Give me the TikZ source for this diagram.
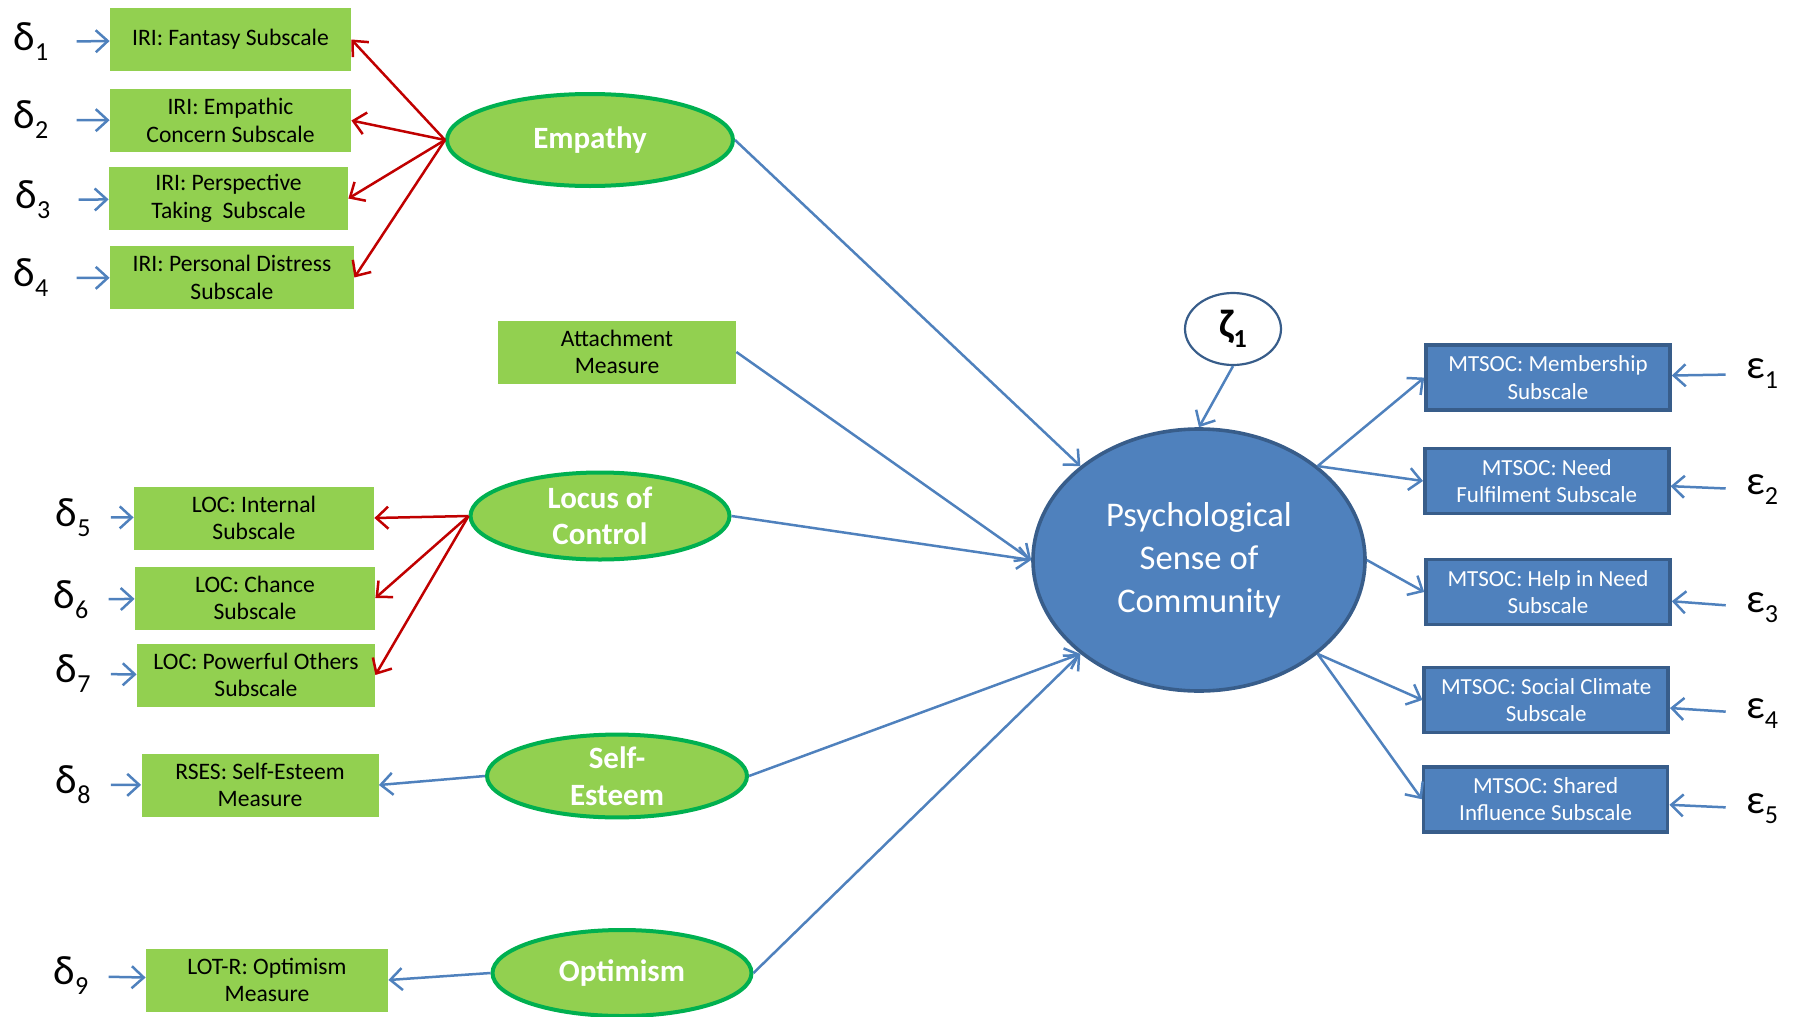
\documentclass[tikz,border=0pt]{standalone}
\usepackage{fontspec}
\setmainfont{Carlito}
\usetikzlibrary{arrows.meta,shapes.geometric}
\definecolor{boxgreen}{HTML}{92D050}
\definecolor{rimgreen}{HTML}{00B050}
\definecolor{psblue}{HTML}{4F81BD}
\definecolor{rimblue}{HTML}{385D8A}
\definecolor{arrowred}{HTML}{C00000}
\newcommand{\errlabel}[2]{#1\raisebox{-5pt}{\fontsize{13}{13}\selectfont #2}}

\begin{document}
\begin{tikzpicture}[x=1pt,y=-1pt,>={Straight Barb[length=6pt,width=11pt]},
  bluearrow/.style={draw=psblue,line width=1.25pt,->},
  redarrow/.style={draw=arrowred,line width=1.25pt,->}]

        \useasboundingbox (0,0) rectangle (897,508.5);

        \begin{scope}[every node/.style={fill=boxgreen,align=center,inner sep=0pt,minimum height=31.5pt,font=\fontsize{11.8}{13.7}\selectfont}]
          \node[minimum width=120.5pt] (fan)  at (115.25,19.75) {IRI: Fantasy Subscale};
          \node[minimum width=120.5pt] (emc)  at (115.25,60.25) {IRI: Empathic\\Concern Subscale};
          \node[minimum width=119.5pt] (per)  at (114.25,99.25) {IRI: Perspective\\Taking\ \ Subscale};
          \node[minimum width=122pt]   (pdi)  at (116,138.75)   {IRI: Personal Distress\\Subscale};
          \node[minimum width=119pt]   (att)  at (308.5,176)    {Attachment\\Measure};
          \node[minimum width=120pt]   (int)  at (127,259)      {LOC: Internal\\Subscale};
          \node[minimum width=120pt]   (cha)  at (127.5,299)    {LOC: Chance\\Subscale};
          \node[minimum width=119pt]   (pow)  at (128,337.5)    {LOC: Powerful Others\\Subscale};
          \node[minimum width=118.5pt] (rses) at (130,392.5)    {RSES: Self-Esteem\\Measure};
          \node[minimum width=121pt]   (lotr) at (133.5,490)    {LOT-R: Optimism\\Measure};
        \end{scope}

        \begin{scope}[every node/.style={ellipse,fill=boxgreen,draw=rimgreen,line width=2pt,inner sep=0pt,text=white,align=center,font=\bfseries\fontsize{15.5}{18.3}\selectfont}]
          \node[minimum width=143pt,minimum height=46pt]   (emp)  at (295,70)    {Empathy};
          \node[minimum width=129.5pt,minimum height=43.5pt] (loc) at (300,258) {Locus of\\Control};
          \node[minimum width=130pt,minimum height=41pt]   (self) at (308.5,388) {Self-\\Esteem};
          \node[minimum width=129.5pt,minimum height=43pt] (opt)  at (311,486.5) {Optimism};
        \end{scope}

        \node[ellipse,fill=psblue,draw=rimblue,line width=1.8pt,minimum width=166pt,minimum height=131pt,
              inner sep=0pt,text=white,align=center,font=\fontsize{17.3}{21.5}\selectfont] (psc) at (599.5,280)
              {Psychological\\Sense of\\Community};
        \node[ellipse,draw=rimblue,line width=1.1pt,minimum width=48pt,minimum height=36pt,inner sep=0pt,
              font=\bfseries\fontsize{20}{20}\selectfont] (zeta) at (616.5,164.5) {\errlabel{ζ}{1}};

        \begin{scope}[every node/.style={fill=psblue,draw=rimblue,line width=1.8pt,text=white,align=center,inner sep=0pt,
                                         minimum width=122pt,minimum height=32.5pt,font=\fontsize{11.5}{13.7}\selectfont}]
          \node (m1) at (774,188.8)   {MTSOC: Membership\\Subscale};
          \node (m2) at (773.4,240.5) {MTSOC: Need\\Fulfilment Subscale};
          \node (m3) at (774,296)     {MTSOC: Help in Need\\Subscale};
          \node (m4) at (773.1,350)   {MTSOC: Social Climate\\Subscale};
          \node (m5) at (772.8,399.6) {MTSOC: Shared\\Influence Subscale};
        \end{scope}

        \begin{scope}[every node/.style={inner sep=1pt,font=\fontsize{20.5}{20.5}\selectfont}]
          \node (d1) at (15.5,21)    {\errlabel{δ}{1}};
          \node (d2) at (15.5,60)    {\errlabel{δ}{2}};
          \node (d3) at (16.5,100)   {\errlabel{δ}{3}};
          \node (d4) at (15.5,139)   {\errlabel{δ}{4}};
          \node (d5) at (36.6,258.6) {\errlabel{δ}{5}};
          \node (d6) at (35.5,299.7) {\errlabel{δ}{6}};
          \node (d7) at (36.6,337)   {\errlabel{δ}{7}};
          \node (d8) at (36.6,392.4) {\errlabel{δ}{8}};
          \node (d9) at (35.5,488)   {\errlabel{δ}{9}};
          \node (e1) at (881,187)    {\errlabel{ε}{1}};
          \node (e2) at (881,245)    {\errlabel{ε}{2}};
          \node (e3) at (881,304)    {\errlabel{ε}{3}};
          \node (e4) at (881,357)    {\errlabel{ε}{4}};
          \node (e5) at (881,404.5)  {\errlabel{ε}{5}};
        \end{scope}

        \begin{scope}[every edge/.style={redarrow}]
          \path (emp.west) edge (fan.east);
          \path (emp.west) edge (emc.east);
          \path (emp.west) edge (per.east);
          \path (emp.west) edge (pdi.east);
          \path (loc.west) edge (int.east);
          \path (loc.west) edge (cha.east);
          \path (loc.west) edge (pow.east);
        \end{scope}

        \begin{scope}[every edge/.style={bluearrow}]
          \path (self.west) edge (rses.east);
          \path (opt.west)  edge (lotr.east);
          \path (emp.east)  edge (psc.north west);
          \path (att.east)  edge (psc.west);
          \path (loc.east)  edge (psc.west);
          \path (self.east) edge (psc.south west);
          \path (opt.east)  edge (psc.south west);
          \path (zeta.south) edge (psc.north);
          \path (psc.north east) edge (m1.west);
          \path (psc.north east) edge (m2.west);
          \path (psc.east)       edge (m3.west);
          \path (psc.south east) edge (m4.west);
          \path (psc.south east) edge (m5.west);
        \end{scope}

        \begin{scope}[every edge/.style={bluearrow,shorten <=13pt}]
          \path (d1) edge (fan);
          \path (d2) edge (emc);
          \path (d3) edge (per);
          \path (d4) edge (pdi);
        \end{scope}

        \begin{scope}[every edge/.style={bluearrow,shorten <=9pt}]
          \path (d5) edge (int);
          \path (d6) edge (cha);
          \path (d7) edge (pow);
          \path (d8) edge (rses);
          \path (d9) edge (lotr);
          \path (e1) edge (m1);
          \path (e2) edge (m2);
          \path (e3) edge (m3);
          \path (e4) edge (m4);
          \path (e5) edge (m5);
        \end{scope}

      \end{tikzpicture}
\end{document}
